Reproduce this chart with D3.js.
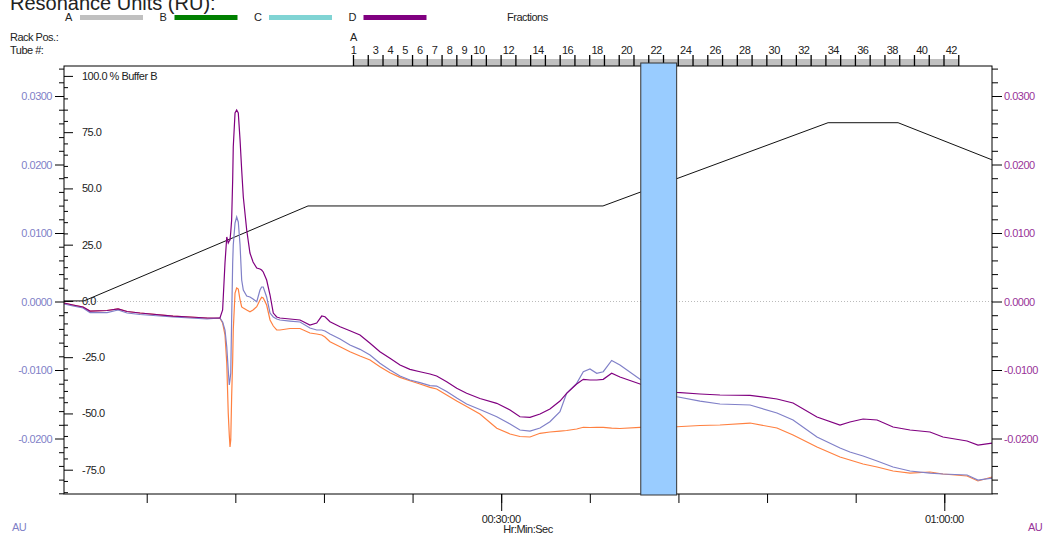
<!DOCTYPE html>
<html>
<head>
<meta charset="utf-8">
<script src="https://cdn.jsdelivr.net/npm/d3@7"></script>
<style>
  body { margin: 0; background: #fff; }
  svg { display: block; font-family: "Liberation Sans", Arial, sans-serif; }
  text { letter-spacing: -0.5px; }
</style>
</head>
<body>
<svg id="chart" width="1045" height="534"></svg>
<script>
// time (min) of each sample, shared by the three UV traces
const times = [0.40, 1.01, 1.69, 2.16, 3.31, 4.06, 4.67, 5.55, 7.78, 8.93, 10.08, 10.96,
  11.14, 11.30, 11.42, 11.52, 11.59, 11.64, 11.69, 11.75, 11.82, 11.86,
  11.98, 12.09, 12.20, 12.32, 12.43, 12.54, 12.77, 12.99, 13.20, 13.45,
  13.67, 13.78, 13.89, 14.12, 14.35, 14.57, 14.80, 15.02, 15.70, 16.38,
  17.05, 17.51, 17.85, 18.07, 18.41, 19.09, 19.76, 20.44, 21.12, 21.79,
  22.47, 23.15, 23.82, 24.50, 25.18, 25.63, 26.31, 26.99, 27.66, 28.56,
  29.70, 30.60, 31.27, 31.95, 32.63, 33.30, 33.98, 34.43, 35.11, 35.56,
  36.01, 36.47, 36.91, 37.48, 38.04, 39.40, 41.90, 43.46, 44.81, 46.85,
  48.67, 49.76, 51.38, 52.94, 53.61, 54.50, 55.45, 56.53, 57.68, 59.03,
  59.91, 61.54, 62.28, 63.23];

// absorbance in mAU
const purpleTrace = [-0.22, -0.51, -0.80, -1.39, -1.31, -1.09, -1.46, -1.68, -2.12, -2.26, -2.41, -2.41,
  -1.24, 5.62, 9.42, 8.54, 8.83, 8.98, 10.15, 11.90, 17.74, 22.55,
  27.52, 27.96, 27.52, 23.58, 19.20, 15.26, 10.44, 7.08, 5.77, 4.89,
  4.74, 4.60, 4.31, 3.14, 0.95, -1.68, -2.26, -2.41, -2.55, -2.70,
  -3.43, -3.14, -2.12, -2.22, -2.95, -3.68, -4.26, -4.89, -6.10, -7.33,
  -8.29, -9.27, -9.90, -10.25, -10.58, -10.88, -11.71, -12.67, -13.40, -14.16,
  -14.86, -15.84, -16.82, -16.91, -16.42, -15.69, -14.53, -13.40, -12.04, -11.36,
  -11.46, -11.46, -11.36, -10.48, -11.02, -12.04, -13.26, -13.50, -13.65, -13.69,
  -14.23, -14.82, -16.86, -18.03, -17.59, -17.15, -17.30, -18.32, -18.76, -19.05,
  -19.78, -20.36, -20.95, -20.66];

const blueTrace = [-0.36, -0.66, -0.95, -1.61, -1.61, -1.24, -1.68, -1.90, -2.26, -2.41, -2.55, -2.41,
  -2.99, -4.16, -6.64, -10.00, -12.19, -11.46, -10.44, -2.70, 5.62, 8.25,
  11.46, 12.34, 11.61, 8.25, 3.14, 1.68, 0.80, 0.66, 0.36, -0.03,
  1.68, 2.12, 2.12, 0.66, -1.68, -2.26, -2.55, -2.70, -2.85, -2.99,
  -3.87, -4.16, -4.16, -4.31, -4.74, -5.47, -6.35, -6.98, -7.81, -9.02,
  -10.00, -10.88, -11.46, -11.85, -12.29, -12.34, -13.14, -14.09, -14.96, -15.77,
  -16.82, -17.88, -18.76, -18.91, -18.47, -17.55, -16.09, -13.40, -11.94, -10.25,
  -9.85, -10.48, -10.25, -8.61, -9.27, -11.36, -13.90, -14.53, -14.96, -15.11,
  -16.28, -17.30, -19.78, -21.39, -21.97, -22.55, -23.28, -24.16, -24.74, -25.04,
  -25.18, -25.33, -26.06, -25.77];

const orangeTrace = [-0.22, -0.51, -0.80, -1.39, -1.31, -1.09, -1.46, -1.68, -2.12, -2.26, -2.41, -2.45,
  -3.14, -4.89, -8.98, -16.28, -19.49, -21.24, -20.22, -13.94, -8.54, -4.16,
  1.24, 1.97, 1.82, 0.22, -0.80, -0.95, -1.24, -1.49, -1.24, -0.76,
  0.22, 0.61, 0.51, -0.51, -2.70, -3.58, -4.16, -4.16, -3.94, -3.94,
  -4.60, -4.74, -4.89, -5.18, -5.87, -6.60, -7.33, -7.96, -8.54, -9.52,
  -10.39, -11.07, -11.56, -12.04, -12.53, -12.77, -13.65, -14.53, -15.33, -16.42,
  -18.51, -19.34, -19.71, -19.78, -19.24, -19.05, -18.91, -18.83, -18.61, -18.36,
  -18.39, -18.36, -18.36, -18.47, -18.54, -18.36, -18.28, -18.10, -18.03, -17.74,
  -18.47, -19.49, -21.24, -22.70, -23.14, -23.72, -24.16, -24.74, -25.04, -24.89,
  -25.18, -25.47, -26.20, -25.62];

// % Buffer B gradient
const gradTimes = [0.40, 1.75, 16.92, 36.89, 52.13, 56.87, 63.23];
const gradPct = [0, 0, 42.2, 42.2, 79.2, 79.2, 62.7];

const auTicks = [30, 20, 10, 0, -10, -20];
const pctTicks = [100, 75, 50, 25, 0, -25, -50, -75];
const timeTicks = [6, 12, 18, 24, 30, 36, 42, 48, 54, 60];
const timeMajor = [30, 60];
const timeLabels = ["00:30:00", "01:00:00"];

const legendNames = ["A", "B", "C", "D"];
const legendColors = ["#c0c0c0", "#008000", "#80d4d4", "#800080"];

const tubeLabels = [1, 3, 4, 5, 6, 7, 8, 9, 10, 12, 14, 16, 18, 20, 22, 24, 26, 28, 30, 32, 34, 36, 38, 40, 42];
const fracStart = 20.0, fracWidth = 0.9995, fracCount = 41;
const markTimes = [39.45, 41.88];

const svg = d3.select("#chart");
const L = 64, R = 992, T = 66, B = 494;

const x = d3.scaleLinear().domain([0.40, 63.23]).range([L, R]);
const yAU = d3.scaleLinear().domain([-28.10, 34.38]).range([B, T]);
const yPct = d3.scaleLinear().domain([-85.8, 104.4]).range([B, T]);

const leftCol = "#7f7fc7", rightCol = "#993399";

// title, cut off at the top
svg.append("text").attr("x", 10).attr("y", 10).attr("font-size", 20).attr("fill", "#222")
  .style("letter-spacing", "0px").text("Resonance Units (RU):");

// legend
const lg = svg.append("g");
legendNames.forEach((n, i) => {
  const x0 = 65 + i * 94.5;
  lg.append("text").attr("x", x0).attr("y", 21).attr("font-size", 11).attr("fill", "#222").text(n);
  lg.append("rect").attr("x", x0 + 15).attr("y", 15).attr("width", 63).attr("height", 5).attr("fill", legendColors[i]);
});
lg.append("text").attr("x", 507).attr("y", 21).attr("font-size", 11).attr("fill", "#222").text("Fractions");

svg.append("text").attr("x", 10).attr("y", 41).attr("font-size", 11).attr("fill", "#222").text("Rack Pos.:");
svg.append("text").attr("x", 10).attr("y", 54).attr("font-size", 11).attr("fill", "#222").text("Tube #:");

// fraction ruler
const fr = svg.append("g");
fr.append("rect").attr("x", x(fracStart)).attr("y", 59)
  .attr("width", x(fracStart + fracCount * fracWidth) - x(fracStart)).attr("height", T - 59)
  .attr("fill", "#c0c0c0");
fr.selectAll("line.ft").data(d3.range(fracCount + 1)).join("line")
  .attr("x1", d => x(fracStart + d * fracWidth)).attr("x2", d => x(fracStart + d * fracWidth))
  .attr("y1", 55).attr("y2", T).attr("stroke", "#000").attr("stroke-width", 1.3);
fr.selectAll("text").data(tubeLabels).join("text")
  .attr("x", d => x(d === 1 ? fracStart : fracStart + (d - 1.5) * fracWidth))
  .attr("y", 54).attr("text-anchor", "middle").attr("font-size", 11).attr("fill", "#222").text(d => d);
svg.append("text").attr("x", x(fracStart)).attr("y", 41).attr("text-anchor", "middle")
  .attr("font-size", 11).attr("fill", "#222").text("A");

// zero line
svg.append("line").attr("x1", L).attr("x2", R).attr("y1", yAU(0)).attr("y2", yAU(0))
  .attr("stroke", "#bbb").attr("stroke-dasharray", "1,2");

// gradient
const gradLine = d3.line().x((d, i) => x(gradTimes[i])).y(d => yPct(d));
svg.append("path").datum(gradPct).attr("fill", "none").attr("stroke", "#111").attr("stroke-width", 1).attr("d", gradLine);

// traces
const traceLine = d3.line().x((d, i) => x(times[i])).y(d => yAU(d));
[[orangeTrace, "#ff8040"], [blueTrace, "#8080c8"], [purpleTrace, "#800080"]].forEach(([vals, col]) => {
  svg.append("path").datum(vals).attr("fill", "none").attr("stroke", col)
    .attr("stroke-width", 1.2).attr("d", traceLine);
});

// frame
svg.append("rect").attr("x", L).attr("y", T).attr("width", R - L).attr("height", B - T)
  .attr("fill", "none").attr("stroke", "#000").attr("stroke-width", 1);

function styleAxis(g, col) {
  g.select(".domain").remove();
  g.selectAll("line").attr("stroke", "#000");
  g.selectAll("text").attr("font-size", 11).attr("fill", col).attr("font-family", "Liberation Sans, Arial, sans-serif");
}

const auMinor = d3.range(-28, 35, 2).filter(d => d % 10 !== 0);
const pctMinor = d3.range(-85, 105, 5).filter(d => d % 25 !== 0);

// left AU axis
svg.append("g").attr("transform", `translate(${L},0)`)
  .call(d3.axisLeft(yAU).tickValues(auTicks).tickSize(9).tickPadding(3).tickFormat(d => (d / 1000).toFixed(4)))
  .call(g => styleAxis(g, leftCol));
svg.append("g").attr("transform", `translate(${L},0)`)
  .call(d3.axisLeft(yAU).tickValues(auMinor).tickSize(5).tickFormat(""))
  .call(g => styleAxis(g, leftCol));

// percent axis inside
svg.append("g").attr("transform", `translate(${L},0)`)
  .call(d3.axisRight(yPct).tickValues(pctTicks).tickSize(9).tickPadding(9)
    .tickFormat(d => d === 100 ? "100.0 % Buffer B" : d.toFixed(1)))
  .call(g => styleAxis(g, "#222"));
svg.append("g").attr("transform", `translate(${L},0)`)
  .call(d3.axisRight(yPct).tickValues(pctMinor).tickSize(4).tickFormat(""))
  .call(g => styleAxis(g, "#222"));

// right AU axis
svg.append("g").attr("transform", `translate(${R},0)`)
  .call(d3.axisRight(yAU).tickValues(auTicks).tickSize(10).tickPadding(2).tickFormat(d => (d / 1000).toFixed(4)))
  .call(g => styleAxis(g, rightCol));
svg.append("g").attr("transform", `translate(${R},0)`)
  .call(d3.axisRight(yAU).tickValues(auMinor).tickSize(6).tickFormat(""))
  .call(g => styleAxis(g, rightCol));

// time axis
svg.append("g").attr("transform", `translate(0,${B})`)
  .call(d3.axisBottom(x).tickValues(timeTicks).tickSize(9).tickFormat(""))
  .call(g => styleAxis(g, "#222"));
svg.append("g").attr("transform", `translate(0,${B})`)
  .call(d3.axisBottom(x).tickValues(timeMajor).tickSize(17).tickFormat(""))
  .call(g => styleAxis(g, "#222"));
svg.selectAll("text.tl").data(timeMajor).join("text").attr("class", "tl")
  .attr("x", d => x(d)).attr("y", 523).attr("text-anchor", "middle")
  .attr("font-size", 11).attr("fill", "#222").text((d, i) => timeLabels[i]);
svg.append("text").attr("x", 528).attr("y", 533).attr("text-anchor", "middle")
  .attr("font-size", 11).attr("fill", "#222").text("Hr:Min:Sec");

svg.append("text").attr("x", 12).attr("y", 531).attr("font-size", 11).attr("fill", leftCol).text("AU");
svg.append("text").attr("x", 1028).attr("y", 531).attr("font-size", 11).attr("fill", rightCol).text("AU");

// fraction marker
svg.append("rect").attr("x", x(markTimes[0])).attr("y", T - 3)
  .attr("width", x(markTimes[1]) - x(markTimes[0])).attr("height", B - T + 4)
  .attr("fill", "#99ccff").attr("stroke", "#333").attr("stroke-width", 1);
</script>
</body>
</html>
